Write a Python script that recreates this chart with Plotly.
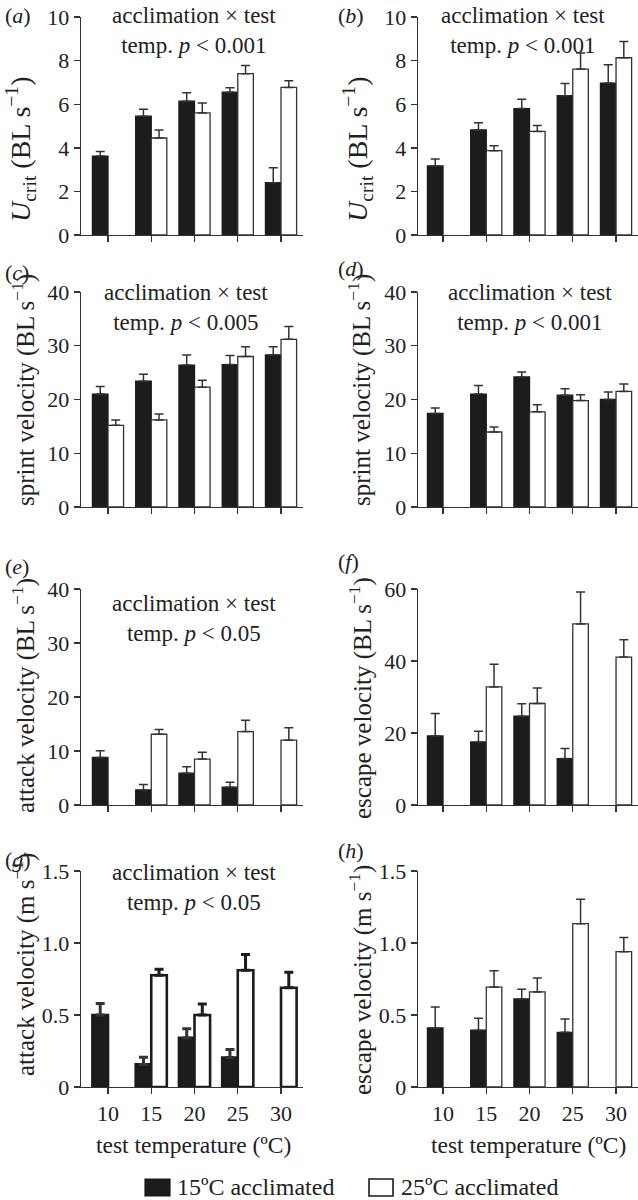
import plotly.graph_objects as go

W, H = 638, 1200
FONT = "Liberation Serif"
INK = "#222222"
LINE = "#333333"
BLACK = "#1c1c1c"

temps = [10, 15, 20, 25, 30]
tick_labels = ["10", "15", "20", "25", "30"]

# panel (a) Ucrit BL s-1, (b) Ucrit BL s-1
a_15 = [3.62, 5.45, 6.14, 6.55, 2.40]
a_15_err = [0.21, 0.32, 0.38, 0.20, 0.69]
a_25 = [None, 4.45, 5.60, 7.40, 6.77]
a_25_err = [0, 0.37, 0.45, 0.37, 0.31]

b_15 = [3.17, 4.82, 5.80, 6.39, 6.97]
b_15_err = [0.32, 0.33, 0.43, 0.56, 0.84]
b_25 = [None, 3.87, 4.75, 7.61, 8.13]
b_25_err = [0, 0.22, 0.27, 0.74, 0.75]

# panel (c), (d) sprint velocity BL s-1
c_15 = [21.0, 23.4, 26.4, 26.5, 28.3]
c_15_err = [1.4, 1.3, 1.9, 1.7, 1.5]
c_25 = [15.2, 16.2, 22.3, 28.0, 31.2]
c_25_err = [1.0, 1.1, 1.3, 1.8, 2.4]

d_15 = [17.4, 21.0, 24.2, 20.8, 20.0]
d_15_err = [1.0, 1.6, 0.9, 1.2, 1.4]
d_25 = [None, 13.95, 17.7, 19.8, 21.5]
d_25_err = [0, 0.95, 1.3, 1.1, 1.4]

# panel (e) attack velocity BL s-1, (f) escape velocity BL s-1
e_15 = [8.8, 2.8, 5.9, 3.3, None]
e_15_err = [1.25, 1.0, 1.2, 0.9, 0]
e_25 = [None, 13.1, 8.5, 13.6, 12.0]
e_25_err = [0, 0.9, 1.25, 2.1, 2.3]

f_15 = [19.2, 17.5, 24.65, 12.9, None]
f_15_err = [6.2, 3.0, 3.45, 2.8, 0]
f_25 = [None, 32.8, 28.2, 50.3, 41.1]
f_25_err = [0, 6.3, 4.3, 8.9, 4.8]

# panel (g) attack velocity m s-1, (h) escape velocity m s-1
g_15 = [0.50, 0.157, 0.341, 0.205, None]
g_15_err = [0.08, 0.05, 0.064, 0.055, 0]
g_25 = [None, 0.776, 0.50, 0.811, 0.689]
g_25_err = [0, 0.042, 0.076, 0.109, 0.108]

h_15 = [0.41, 0.394, 0.611, 0.38, None]
h_15_err = [0.146, 0.083, 0.067, 0.092, 0]
h_25 = [None, 0.694, 0.66, 1.134, 0.94]
h_25_err = [0, 0.114, 0.097, 0.169, 0.099]

ytick_a = [0, 2, 4, 6, 8, 10]
ytick_c = [0, 10, 20, 30, 40]
ytick_f = [0, 20, 40, 60]
ytick_g = [0, 0.5, 1.0, 1.5]
ytick_g_text = ["0", "0.5", "1.0", "1.5"]

panel_letters = ["a", "b", "c", "d", "e", "f", "g", "h"]
ytitles = [
    "<i>U</i><sub>crit</sub> (BL s<sup>−1</sup>)",
    "<i>U</i><sub>crit</sub> (BL s<sup>−1</sup>)",
    "sprint velocity (BL s<sup>−1</sup>)",
    "sprint velocity (BL s<sup>−1</sup>)",
    "attack velocity (BL s<sup>−1</sup>)",
    "escape velocity (BL s<sup>−1</sup>)",
    "attack velocity (m s<sup>−1</sup>)",
    "escape velocity (m s<sup>−1</sup>)",
]
ytitle_sizes = [28, 28, 25, 25, 25, 25, 25, 25]
stats = {
    0: "acclimation × test<br>temp. <i>p</i> < 0.001",
    1: "acclimation × test<br>temp. <i>p</i> < 0.001",
    2: "acclimation × test<br>temp. <i>p</i> < 0.005",
    3: "acclimation × test<br>temp. <i>p</i> < 0.001",
    4: "acclimation × test<br>temp. <i>p</i> < 0.05",
    6: "acclimation × test<br>temp. <i>p</i> < 0.05",
}
xtitle = "test temperature (ºC)"
legend_names = ["15ºC acclimated", "25ºC acclimated"]

panels = [
    (a_15, a_15_err, a_25, a_25_err, 10, ytick_a, None),
    (b_15, b_15_err, b_25, b_25_err, 10, ytick_a, None),
    (c_15, c_15_err, c_25, c_25_err, 40, ytick_c, None),
    (d_15, d_15_err, d_25, d_25_err, 40, ytick_c, None),
    (e_15, e_15_err, e_25, e_25_err, 40, ytick_c, None),
    (f_15, f_15_err, f_25, f_25_err, 60, ytick_f, None),
    (g_15, g_15_err, g_25, g_25_err, 1.5, ytick_g, ytick_g_text),
    (h_15, h_15_err, h_25, h_25_err, 1.5, ytick_g, ytick_g_text),
]


def px(x):
    return x / W


def py(y):
    return 1 - y / H


# layout geometry (pixels)
col_x = [(81, 303), (418, 638)]
col_range = [[6.88, 32.54], [7.11, 32.54]]
row_y = [(17, 235), (292, 507), (589, 805), (871, 1087)]
label_pos = [(3, 16), (336, 16), (3, 272), (336, 269), (3, 566), (336, 562), (3, 859), (336, 851)]
ytitle_pos = [(21, 149), (358, 149), (24, 390), (360, 390), (23, 696), (360, 698), (23, 965), (360, 980)]
stat_pos = {0: (194, 30), 1: (523, 30), 2: (186, 308), 3: (530, 308), 4: (194, 618), 6: (194, 887)}

fig = go.Figure()
layout = {}
annotations = []
BW = 1.8

for i, (m15, e15, m25, e25, ytop, ytv, ytt) in enumerate(panels):
    row, col = divmod(i, 2)
    n = "" if i == 0 else str(i + 1)
    xa, ya = "x" + n, "y" + n
    thick = i == 6
    lw = 2.6 if thick else 1.3
    ew = 3.0 if thick else 1.5
    fig.add_trace(go.Bar(
        x=temps, y=m15, xaxis=xa, yaxis=ya, offset=-BW, width=BW,
        marker=dict(color=BLACK, line=dict(color=BLACK, width=lw)),
        error_y=dict(type="data", symmetric=False, array=e15,
                     arrayminus=[0] * 5, color=LINE, thickness=ew, width=4.5),
        name=legend_names[0], showlegend=False,
    ))
    fig.add_trace(go.Bar(
        x=temps, y=m25, xaxis=xa, yaxis=ya, offset=0, width=BW,
        marker=dict(color="white", line=dict(color=BLACK if thick else LINE, width=lw)),
        error_y=dict(type="data", symmetric=False, array=e25,
                     arrayminus=[0] * 5, color=BLACK if thick else LINE,
                     thickness=ew, width=4.5),
        name=legend_names[1], showlegend=False,
    ))
    x0, x1 = col_x[col]
    y0, y1 = row_y[row]
    layout["xaxis" + n] = dict(
        domain=[px(x0), px(x1)], range=col_range[col], anchor=ya,
        automargin=False,
        tickvals=temps, ticktext=tick_labels, showticklabels=(row == 3),
        ticks="outside", ticklen=6, tickwidth=1.4, tickcolor=LINE,
        showline=True, linecolor=LINE, linewidth=1.4,
        showgrid=False, zeroline=False,
        tickfont=dict(family=FONT, size=22, color=INK),
    )
    ydict = dict(
        domain=[py(y1), py(y0)], range=[0, ytop], anchor=xa,
        automargin=False,
        tickvals=ytv, ticks="outside", ticklen=6, tickwidth=1.4, tickcolor=LINE,
        showline=True, linecolor=LINE, linewidth=1.4,
        showgrid=False, zeroline=False,
        tickfont=dict(family=FONT, size=22, color=INK),
    )
    if ytt is not None:
        ydict["ticktext"] = ytt
    layout["yaxis" + n] = ydict

    lx, ly = label_pos[i]
    annotations.append(dict(
        text="(<i>" + panel_letters[i] + "</i>)", x=px(lx), y=py(ly),
        xref="paper", yref="paper", xanchor="left", yanchor="middle",
        showarrow=False, font=dict(family=FONT, size=22, color=INK),
    ))
    tx, ty = ytitle_pos[i]
    annotations.append(dict(
        text=ytitles[i], x=px(tx), y=py(ty), xref="paper", yref="paper",
        xanchor="center", yanchor="middle", textangle=-90, showarrow=False,
        font=dict(family=FONT, size=ytitle_sizes[i], color=INK),
    ))
    if i in stats:
        sx, sy = stat_pos[i]
        annotations.append(dict(
            text=stats[i], x=px(sx), y=py(sy), xref="paper", yref="paper",
            xanchor="center", yanchor="middle", showarrow=False, align="center",
            font=dict(family=FONT, size=23, color=INK),
        ))

for cx in (194, 528):
    annotations.append(dict(
        text=xtitle, x=px(cx), y=py(1145), xref="paper", yref="paper",
        xanchor="center", yanchor="middle", showarrow=False,
        font=dict(family=FONT, size=23.5, color=INK),
    ))

# legend (drawn manually)
shapes = [
    dict(type="rect", xref="paper", yref="paper", x0=px(145), x1=px(170),
         y0=py(1196), y1=py(1179), fillcolor=BLACK, line=dict(color=BLACK, width=1.2)),
    dict(type="rect", xref="paper", yref="paper", x0=px(369), x1=px(393),
         y0=py(1196), y1=py(1179), fillcolor="white", line=dict(color=BLACK, width=1.6)),
]
annotations.append(dict(
    text=legend_names[0], x=px(175), y=py(1187), xref="paper", yref="paper",
    xanchor="left", yanchor="middle", showarrow=False,
    font=dict(family=FONT, size=24, color=INK),
))
annotations.append(dict(
    text=legend_names[1], x=px(399), y=py(1187), xref="paper", yref="paper",
    xanchor="left", yanchor="middle", showarrow=False,
    font=dict(family=FONT, size=24, color=INK),
))

fig.update_layout(
    template="none",
    width=W, height=H, margin=dict(l=0, r=0, t=0, b=0, pad=0, autoexpand=False),
    paper_bgcolor="white", plot_bgcolor="white",
    barmode="overlay", showlegend=False, hovermode=False,
    annotations=annotations, shapes=shapes,
    font=dict(family=FONT, size=22, color=INK),
    **layout,
)

fig.write_html(
    "out.html",
    config={"displayModeBar": False, "staticPlot": True},
    post_script="document.body.style.margin='0';"
                "document.documentElement.style.overflow='hidden';"
                "document.body.style.overflow='hidden';",
)
